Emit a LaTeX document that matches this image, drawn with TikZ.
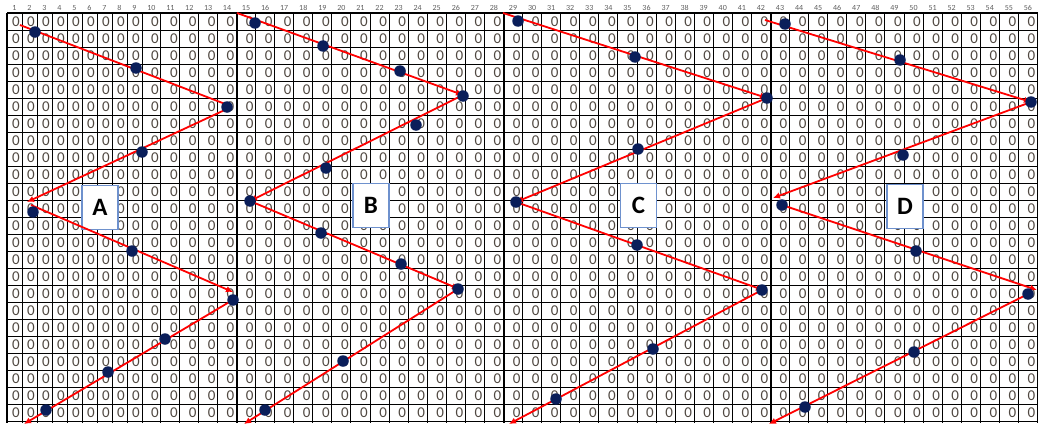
\documentclass[tikz,border=0pt]{standalone}
\usepackage{fontspec}
\setmainfont{Carlito}
\usetikzlibrary{arrows.meta}
\definecolor{navy}{RGB}{10,30,90}
\definecolor{zerogrey}{RGB}{80,72,65}
\definecolor{boxblue}{RGB}{110,145,205}
\definecolor{hdrgrey}{RGB}{95,95,95}
\begin{document}
\begin{tikzpicture}[x=1pt,y=-1pt,
  gridline/.style={black,line width=0.9pt},
  panelline/.style={black,line width=2pt},
  zero/.style={font=\fontsize{15}{15}\selectfont,text=zerogrey,inner sep=0pt,anchor=center},
  hdr/.style={font=\fontsize{8}{8}\selectfont,text=hdrgrey,inner sep=0pt,anchor=base},
  dot/.style={circle,fill=navy,inner sep=0pt,minimum size=11.5pt},
  redline/.style={red,line width=1.8pt,-{Latex[length=7pt,width=6.5pt]}},
  panellabel/.style={draw=boxblue,line width=1.4pt,fill=white,font=\fontsize{25}{25}\selectfont\bfseries,inner sep=0pt,minimum width=36pt,minimum height=44pt}
]
\useasboundingbox (0,0) rectangle (1038,423);
\fill[white] (0,0) rectangle (1038,423);
% header numbers
\begin{scope}
\clip (0,5.5) rectangle (1038,12);
\foreach \c in {1,...,56}{
  \pgfmathsetmacro\xl{\c<10 ? 7+15*(\c-1) : (\c<15 ? 142+18.9*(\c-10) : 236.5+19.07*(\c-15))}
  \pgfmathsetmacro\w{\c<10 ? 15 : (\c<15 ? 18.9 : 19.07)}
  \node[hdr] (h\c) at (\xl+\w/2,10) {\c};
}
\end{scope}
% zeros and vertical lines
\foreach \c in {1,...,56}{
  \pgfmathsetmacro\xl{\c<10 ? 7+15*(\c-1) : (\c<15 ? 142+18.9*(\c-10) : 236.5+19.07*(\c-15))}
  \pgfmathsetmacro\w{\c<10 ? 15 : (\c<15 ? 18.9 : 19.07)}
  \draw[gridline] (\xl,13) -- (\xl,423);
  \foreach \r in {1,...,24}{
    \node[zero] (z\c-\r) at (\xl+\w-6,13+17*\r-8) {0};
  }
}
\draw[gridline] (1037.4,13) -- (1037.4,423);
\foreach \k in {1,...,24}{
  \draw[gridline] (7,13+17*\k) -- (1038,13+17*\k);
}
\draw[black,line width=1.5pt] (7,13) -- (1038,13);
\foreach \xx in {7,236.5,503.5,770.5}{
  \draw[panelline] (\xx,13) -- (\xx,423);
}
% labels
\node[panellabel] (labA) at (100,207.5) {A};
\node[panellabel] (labB) at (371,205.5) {B};
\node[panellabel] (labC) at (638.5,205.5) {C};
\node[panellabel] (labD) at (905,206.5) {D};
% connector end points
\coordinate (A1s) at (20,25);    \coordinate (A1e) at (233,107);
\coordinate (A2s) at (229,108);  \coordinate (A2e) at (27,202);
\coordinate (A3s) at (31,205);   \coordinate (A3e) at (233,292);
\coordinate (A4s) at (231,301);  \coordinate (A4e) at (24,424);
\coordinate (B1s) at (237,13);   \coordinate (B1e) at (463,95);
\coordinate (B2s) at (463,95);   \coordinate (B2e) at (250,201);
\coordinate (B3s) at (250,201);  \coordinate (B3e) at (459,289);
\coordinate (B4s) at (458,289);  \coordinate (B4e) at (244,424);
\coordinate (C1s) at (503,13);   \coordinate (C1e) at (767,98);
\coordinate (C2s) at (767,98);   \coordinate (C2e) at (516,202);
\coordinate (C3s) at (516,202);  \coordinate (C3e) at (763,290);
\coordinate (C4s) at (762,290);  \coordinate (C4e) at (509,424);
\coordinate (D1s) at (765,20);   \coordinate (D1e) at (1031,102);
\coordinate (D2s) at (1031,102); \coordinate (D2e) at (773,198);
\coordinate (D3s) at (782,205);  \coordinate (D3e) at (1037,290);
\coordinate (D4s) at (1028,294); \coordinate (D4e) at (769,424);
\foreach \p in {A,B,C,D}{
  \foreach \s in {1,2,3,4}{
    \draw[redline] (\p\s s) -- (\p\s e);
  }
}
% dots
\foreach \n/\xx/\yy in {a1/35/32,a2/136/68,a3/227/107,a4/142/152,a5/33/212,a6/132/251,a7/233/300,a8/165/339,a9/108/372,a10/46/410,
  b1/255/23,b2/323/46,b3/400/71,b4/463/96,b5/416/125,b6/326/168,b7/250/201,b8/321/233,b9/401/264,b10/458/289,b11/343/361,b12/265/410,
  c1/518/21,c2/635/57,c3/767/98,c4/638/149,c5/516/202,c6/637/245,c7/762/290,c8/653/349,c9/556/399,
  d1/785/24,d2/900/60,d3/1031/102,d4/903/155,d5/782/205,d6/916/251,d7/1028/294,d8/914/352,d9/805/407}{
  \node[dot] (\n) at (\xx,\yy) {};
}
\end{tikzpicture}
\end{document}
